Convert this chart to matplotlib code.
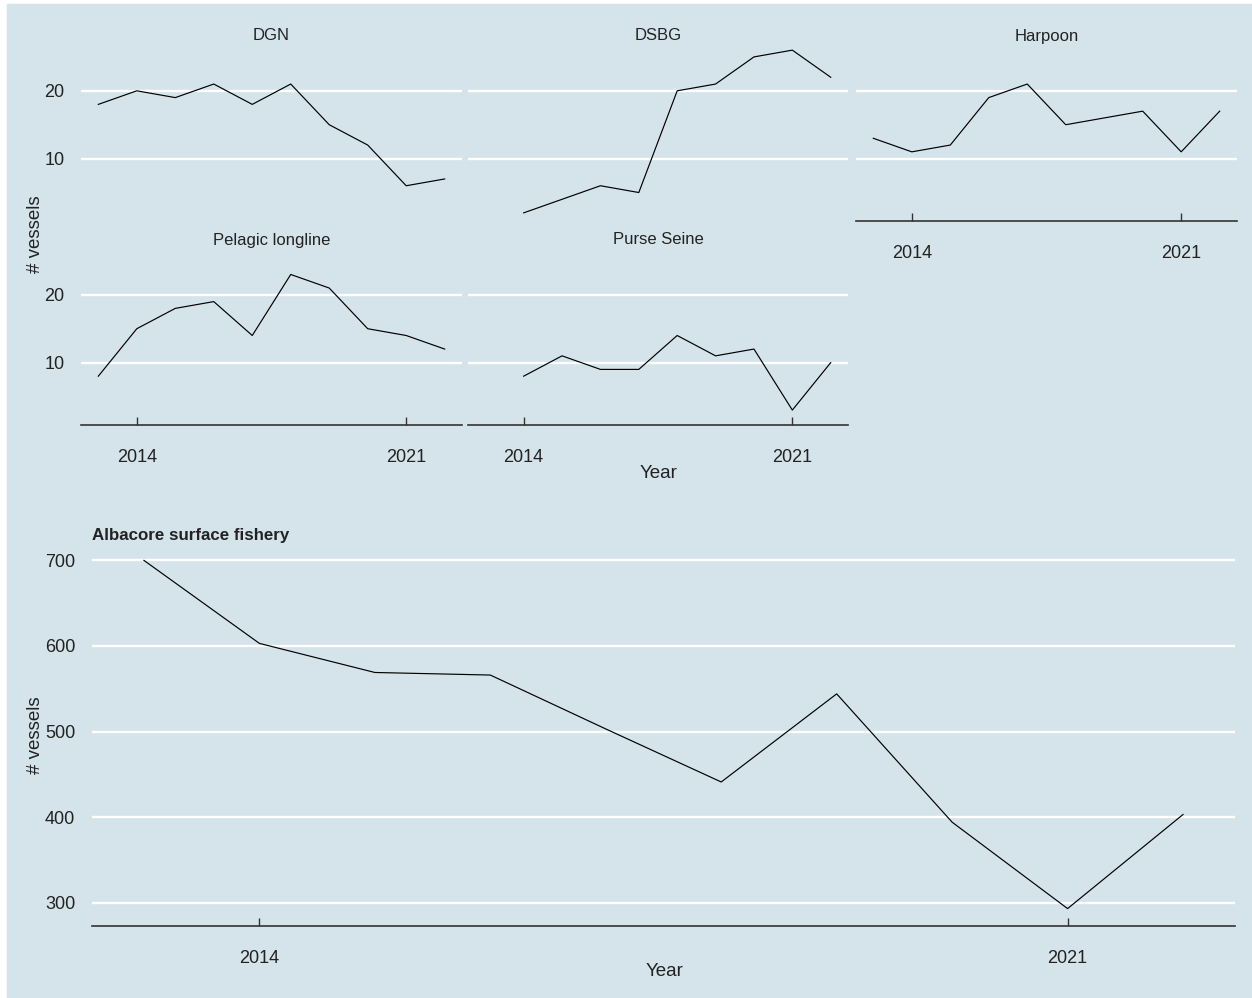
import matplotlib
matplotlib.use("Agg")
import matplotlib.pyplot as plt
from matplotlib.patches import Rectangle

plt.rcParams['font.family'] = ['Liberation Sans', 'DejaVu Sans']

# vessel counts by gear type
years = [2013, 2014, 2015, 2016, 2017, 2018, 2019, 2020, 2021, 2022]
years_short = [2014, 2015, 2016, 2017, 2018, 2019, 2020, 2021, 2022]

dgn = [18, 20, 19, 21, 18, 21, 15, 12, 6, 7]
dsbg = [2, 4, 6, 5, 20, 21, 25, 26, 22]
harpoon = [13, 11, 12, 19, 21, 15, 16, 17, 11, 17]
pelagic_longline = [8, 15, 18, 19, 14, 23, 21, 15, 14, 12]
purse_seine = [8, 11, 9, 9, 14, 11, 12, 3, 10]

albacore = [700, 603, 569, 566, 503, 441, 544, 394, 293, 403]

facet_yticks = [10, 20]
albacore_yticks = [300, 400, 500, 600, 700]
xticks = [2014, 2021]

BG = '#d5e4eb'
AXIS = '#333333'
TXT = '#222222'
W, H = 1252, 998

fig = plt.figure(figsize=(W / 100, H / 100), dpi=100, facecolor='white')
fig.patches.append(Rectangle((7 / W, 0), 1 - 7 / W, 1 - 4 / H,
                             transform=fig.transFigure, color=BG, zorder=-10))


def px_axes(left, top, right, bottom, **kw):
    return fig.add_axes([left / W, 1 - bottom / H, (right - left) / W, (bottom - top) / H], **kw)


def style(ax, show_x, show_y, yticks):
    ax.set_facecolor(BG)
    for s in ('top', 'right', 'left'):
        ax.spines[s].set_visible(False)
    ax.spines['bottom'].set_visible(show_x)
    ax.spines['bottom'].set_color(AXIS)
    ax.spines['bottom'].set_linewidth(1.2)
    ax.yaxis.grid(True, color='white', lw=1.7)
    ax.xaxis.grid(False)
    ax.set_axisbelow(True)
    ax.set_yticks(yticks)
    ax.set_xticks(xticks)
    ax.tick_params(axis='y', length=0, pad=12, labelsize=13, labelcolor=TXT,
                   labelleft=show_y)
    ax.tick_params(axis='x', direction='in', length=6, width=1, color=AXIS,
                   pad=17, labelsize=13, labelcolor=TXT,
                   bottom=show_x, labelbottom=show_x)


cols = [(81, 462), (468, 848), (856, 1237)]
rows = [(42, 221), (246, 425)]

facets = [
    ("DGN", years, dgn, 0, 0),
    ("DSBG", years_short, dsbg, 0, 1),
    ("Harpoon", years, harpoon, 0, 2),
    ("Pelagic longline", years, pelagic_longline, 1, 0),
    ("Purse Seine", years_short, purse_seine, 1, 1),
]

first = None
for name, xs, ys, r, c in facets:
    l, rt = cols[c]
    t, b = rows[r]
    ax = px_axes(l, t, rt, b, sharex=first, sharey=first)
    if first is None:
        first = ax
    ax.plot(xs, ys, color='black', lw=0.85)
    show_x = (r == 1) or (c == 2)
    style(ax, show_x, c == 0, facet_yticks)
    # strip label sits just above the panel
    ax.text(0.5, 1 + 6 / (b - t), name, transform=ax.transAxes, ha='center',
            va='center', fontsize=12, color=TXT)

fig.text(35 / W, 1 - 234 / H, "# vessels", rotation=90, ha='center', va='center',
         fontsize=13.5, color=TXT)
fig.text(659 / W, 1 - 474 / H, "Year", ha='center', va='center', fontsize=13.5, color=TXT)

# albacore panel
ax2 = px_axes(92, 543, 1235, 926)
ax2.plot(years, albacore, color='black', lw=0.85)
style(ax2, True, True, albacore_yticks)
ax2.set_title("Albacore surface fishery", loc='left', fontsize=12.2, fontweight='bold',
              color=TXT, pad=1)
fig.text(35 / W, 1 - 735 / H, "# vessels", rotation=90, ha='center', va='center',
         fontsize=13.5, color=TXT)
fig.text(665 / W, 1 - 972 / H, "Year", ha='center', va='center', fontsize=13.5, color=TXT)

fig.savefig("out.png", dpi=100, facecolor=fig.get_facecolor())
